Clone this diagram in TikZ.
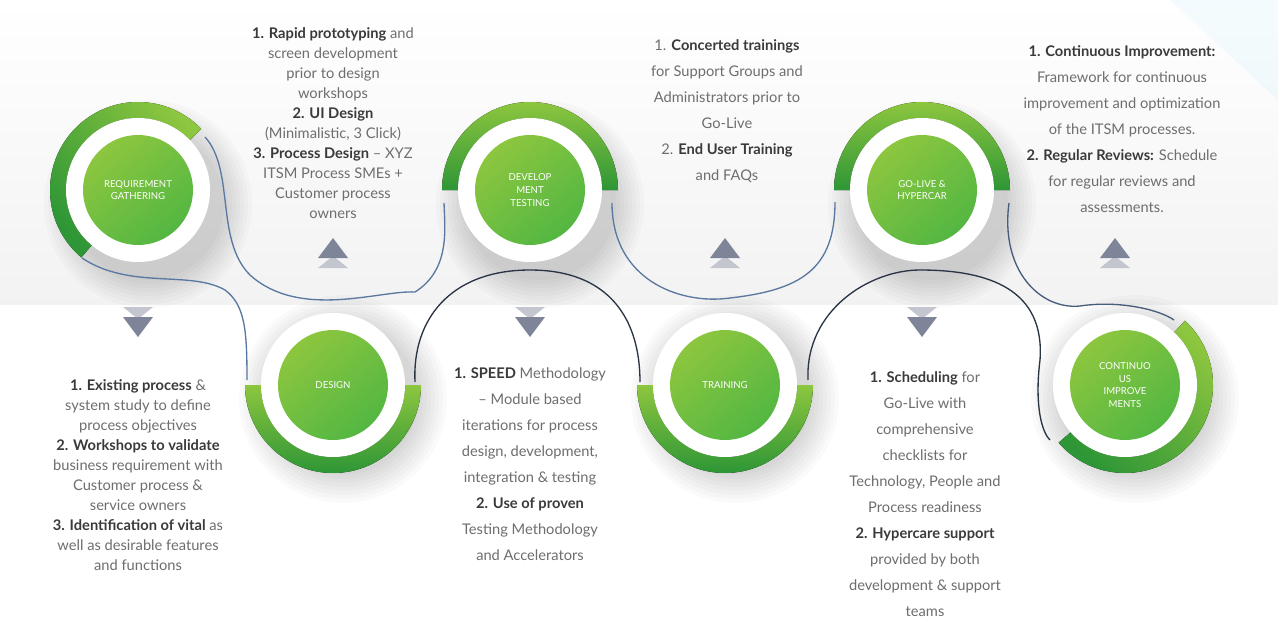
\documentclass[tikz,border=0pt]{standalone}
\usepackage{fontspec}
\setmainfont{Lato}
\usetikzlibrary{calc}
\definecolor{txt}{HTML}{6E6E6E}
\definecolor{btxt}{HTML}{3A3A3A}
\definecolor{gdark}{HTML}{2E9636}
\definecolor{glight}{HTML}{8DC63F}
\definecolor{gmid}{HTML}{5CBF45}
\definecolor{tridark}{HTML}{7F8599}
\definecolor{trilight}{HTML}{C3C5CF}
\definecolor{lineblue}{HTML}{5A78A0}
\definecolor{linedark}{HTML}{2A3445}
\newcommand{\B}[1]{{\bfseries\color{btxt}#1}}
\tikzset{
 blockA/.style={align=center,anchor=north,text=txt,font=\fontsize{11}{15}\selectfont,inner sep=0},
 blockB/.style={align=center,anchor=north,text=txt,font=\fontsize{11}{19.5}\selectfont,inner sep=0},
 clabel/.style={align=center,text=white,font=\fontsize{7.2}{9.5}\selectfont},
 wline/.style={line width=1pt},
}
\newcommand{\stage}[5]{% name, x, y, start, end
  \foreach \i in {1,...,8}{\fill[black,opacity=0.018] ($(#2,#3)+(10,14)$) circle (72+\i*4);}
  \fill[left color=gdark,right color=glight,shading angle=#5]
    ($(#2,#3)+(#4:88)$) arc[start angle=#4,end angle=#5,radius=88]
    -- ($(#2,#3)+(#5:72)$) arc[start angle=#5,end angle=#4,radius=72] -- cycle;
  \fill[white] (#2,#3) circle (72);
  \shade[shading=axis,bottom color=gmid!80!gdark,top color=glight,shading angle=40] (#2,#3) circle (55);
  \coordinate (#1) at (#2,#3);
}
\newcommand{\uptri}[3]{%
  \fill[trilight] (#2-15,#3+15) -- (#2,#3+3) -- (#2+15,#3+15) -- cycle;
  \fill[tridark] (#2-15,#3+5) -- (#2,#3-15) -- (#2+15,#3+5) -- cycle;
  \coordinate (#1) at (#2,#3);}
\newcommand{\dntri}[3]{%
  \fill[trilight] (#2-15,#3-15) -- (#2,#3-3) -- (#2+15,#3-15) -- cycle;
  \fill[tridark] (#2-15,#3-5) -- (#2,#3+15) -- (#2+15,#3-5) -- cycle;
  \coordinate (#1) at (#2,#3);}
\begin{document}
\begin{tikzpicture}[x=0.75pt,y=-0.75pt]
\useasboundingbox (0,0) rectangle (1278,639);
\fill[top color=white,bottom color=black!5] (0,0) rectangle (1278,305);
\fill[white] (0,305) rectangle (1278,639);
\fill[cyan!20!white,opacity=0.2] (1170,0) -- (1278,0) -- (1278,100) -- cycle;

\stage{req}{138}{190}{-44}{-230}
\stage{des}{333}{385}{0}{180}
\stage{dev}{530}{190}{0}{-180}
\stage{trn}{725}{385}{0}{180}
\stage{gol}{922}{190}{0}{-180}
\stage{cip}{1125}{385}{-47}{139}

% connectors
\draw[wline,lineblue] (82,258) .. controls (130,290) and (190,270) .. (225,290)
  .. controls (245,305) and (247,330) .. (247,380);
\draw[wline,lineblue] (205,137) .. controls (235,170) and (215,240) .. (250,275)
  .. controls (300,320) and (380,290) .. (415,292) .. controls (450,270) and (445,230) .. (444,203);
\draw[wline,linedark] (415,382) .. controls (412,320) and (450,270) .. (530,270)
  .. controls (610,270) and (640,320) .. (640,382);
\draw[wline,lineblue] (612,203) .. controls (612,280) and (680,305) .. (730,298)
  .. controls (800,290) and (835,270) .. (835,202);
\draw[wline,linedark] (808,380) .. controls (805,310) and (870,270) .. (920,270)
  .. controls (990,270) and (1045,290) .. (1040,360) .. controls (1035,400) and (1040,430) .. (1050,440);
\draw[wline,lineblue!60!linedark] (1009,203) .. controls (1000,270) and (1040,310) .. (1080,306)
  .. controls (1120,300) and (1160,310) .. (1174,320);

\node[clabel] at (req) {REQUIREMENT\\GATHERING};
\node[clabel] at (des) {DESIGN};
\node[clabel] at (dev) {DEVELOP\\MENT\\TESTING};
\node[clabel] at (trn) {TRAINING};
\node[clabel] at (gol) {GO-LIVE \&\\HYPERCAR};
\node[clabel] at (cip) {CONTINUO\\US\\IMPROVE\\MENTS};

\uptri{u1}{333}{253}
\uptri{u2}{725}{253}
\uptri{u3}{1115}{253}
\dntri{d1}{138}{322}
\dntri{d2}{530}{322}
\dntri{d3}{922}{322}

\node[blockA] (tA) at (333,27) {\B{1. Rapid prototyping} and\\screen development\\prior to design\\workshops\\\B{2. UI Design}\\(Minimalistic, 3 Click)\\\B{3. Process Design} – XYZ\\ITSM Process SMEs +\\Customer process\\owners};
\node[blockB] (tB) at (727,39) {1. \B{Concerted trainings}\\for Support Groups and\\Administrators prior to\\Go-Live\\2. \B{End User Training}\\and FAQs};
\node[blockB] (tC) at (1122,45) {\B{1. Continuous Improvement:}\\Framework for continuous\\improvement and optimization\\of the ITSM processes.\\\B{2. Regular Reviews:} Schedule\\for regular reviews and\\assessments.};
\node[blockA] (tD) at (138,379) {\B{1. Existing process} \&\\system study to define\\process objectives\\\B{2. Workshops to validate}\\business requirement with\\Customer process \&\\service owners\\\B{3. Identification of vital} as\\well as desirable features\\and functions};
\node[blockB] (tE) at (530,367) {\B{1. SPEED} Methodology\\– Module based\\iterations for process\\design, development,\\integration \& testing\\\B{2. Use of proven}\\Testing Methodology\\and Accelerators};
\node[blockB] (tF) at (925,371) {\B{1. Scheduling} for\\Go-Live with\\comprehensive\\checklists for\\Technology, People and\\Process readiness\\\B{2. Hypercare support}\\provided by both\\development \& support\\teams};
\end{tikzpicture}
\end{document}
